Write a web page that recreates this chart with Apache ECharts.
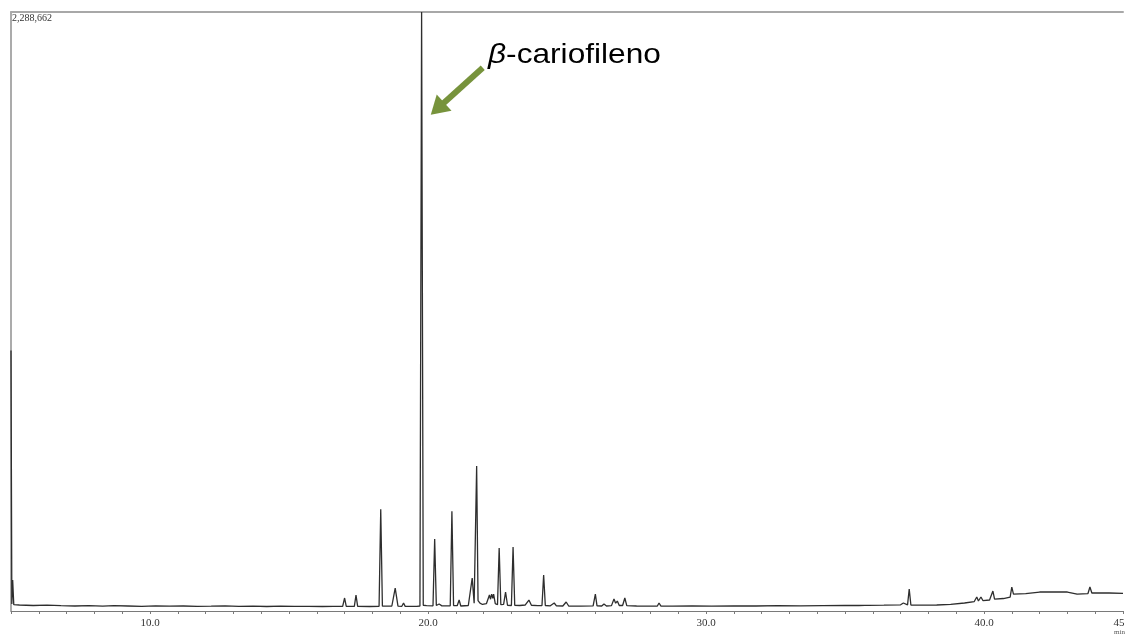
<!DOCTYPE html>
<html>
<head>
<meta charset="utf-8">
<title>Cromatograma</title>
<script src="https://cdn.jsdelivr.net/npm/echarts@6/dist/echarts.min.js"></script>
<style>
  html, body { margin: 0; padding: 0; background: #fff; }
  #chart { width: 1125px; height: 637px; }
</style>
</head>
<body>
<div id="chart"></div>
<script>
// Chromatogram trace: [retention time (min), intensity (counts)]
const solventAndEarlyBaseline = [
  [5.00, 995500], [5.03, 26700], [5.06, 118200], [5.10, 24000], [5.30, 22900],
  [5.80, 21000], [6.30, 22100], [6.80, 20200], [7.30, 19100], [7.80, 20600],
  [8.30, 18400], [8.70, 20200], [9.20, 19100], [9.70, 18000], [10.20, 19800],
  [10.70, 18400], [11.20, 19100], [11.70, 17600], [12.20, 18400], [12.70, 19500],
  [13.20, 17900], [13.70, 18400], [14.20, 17200], [14.70, 18800], [15.20, 17600],
  [15.70, 18000], [16.20, 17200], [16.60, 18000], [16.93, 17500]
];

const sesquiterpeneRegion = [
  [17.00, 49600], [17.06, 17500], [17.35, 18000], [17.41, 61000], [17.47, 17900],
  [17.90, 17200], [18.24, 18000], [18.30, 389000], [18.36, 18400], [18.70, 19100],
  [18.82, 87700], [18.92, 18400], [19.06, 18000], [19.12, 30500], [19.18, 17600],
  [19.60, 18000], [19.71, 19100], [19.77, 2288662], [19.83, 22000], [19.95, 20600],
  [20.18, 19800], [20.24, 274600], [20.30, 21000], [20.40, 26700], [20.50, 19500],
  [20.80, 19800], [20.86, 381400], [20.92, 20600], [21.05, 20200], [21.12, 42000],
  [21.18, 19100], [21.45, 21000], [21.59, 125900], [21.66, 30000], [21.75, 554200],
  [21.80, 40000], [21.83, 45800], [21.87, 30000], [21.91, 34300], [21.96, 25000],
  [22.10, 28000], [22.21, 61000], [22.25, 45000], [22.29, 64800], [22.33, 48000],
  [22.36, 64800], [22.42, 28000], [22.50, 24000], [22.56, 240300], [22.62, 24000],
  [22.72, 25000], [22.79, 72500], [22.86, 22000], [23.00, 21000], [23.06, 244100],
  [23.12, 22000], [23.30, 21000], [23.50, 23000], [23.63, 42000], [23.72, 22000],
  [23.95, 20600], [24.10, 21000], [24.16, 137300], [24.22, 21000], [24.40, 19800],
  [24.54, 30500], [24.62, 19500], [24.85, 19100], [24.97, 34300], [25.06, 19100],
  [25.50, 18400], [25.94, 19500], [26.02, 64800], [26.08, 19500], [26.25, 19100],
  [26.33, 26700], [26.42, 19100], [26.60, 20600], [26.69, 45800], [26.75, 30000],
  [26.81, 38100], [26.88, 21000], [27.00, 21000], [27.08, 49600], [27.15, 20200],
  [27.50, 19100], [28.00, 18800], [28.25, 19100], [28.31, 30500], [28.38, 18800]
];

const lateElutionRegion = [
  [28.80, 18400], [29.50, 19100], [30.20, 18800], [31.00, 19500], [31.80, 19100],
  [32.60, 20200], [33.40, 19800], [34.20, 20600], [35.00, 21400], [35.50, 21000],
  [35.72, 21400], [35.78, 26700], [35.85, 21700], [36.40, 22100], [37.00, 23600],
  [37.10, 30500], [37.16, 23000], [37.25, 23600], [37.31, 83900], [37.37, 22900],
  [37.80, 22100], [38.30, 22900], [38.80, 25000], [39.30, 30500], [39.65, 36200],
  [39.74, 53400], [39.80, 38100], [39.89, 53400], [39.96, 40000], [40.20, 42000],
  [40.32, 76300], [40.38, 45000], [40.70, 47700], [40.94, 53400], [41.00, 91500],
  [41.06, 64800], [41.50, 66700], [42.00, 72500], [42.50, 72500], [43.00, 72500],
  [43.35, 64800], [43.74, 66700], [43.81, 91500], [43.88, 68700], [44.50, 68700],
  [45.00, 67700]
];

// Axis range and label annotation
const timeRange = [5, 45];
const intensityMax = 2288662;
const intensityMaxLabel = '2,288,662';
const peakName = 'cariofileno';
const peakArrowFrom = [21.97, 2076000];
const peakArrowTo = [20.10, 1896000];
const peakLabelAt = [22.16, 2124000];

const trace = solventAndEarlyBaseline.concat(sesquiterpeneRegion, lateElutionRegion);

const chart = echarts.init(document.getElementById('chart'), null, { renderer: 'canvas' });

const serif = '"Liberation Serif", "DejaVu Serif", serif';

chart.setOption({
  animation: false,
  backgroundColor: '#ffffff',
  grid: { left: 11, right: 2, top: 12, bottom: 26, containLabel: false, outerBoundsMode: 'none' },
  xAxis: [
    {
      type: 'value',
      min: timeRange[0],
      max: timeRange[1],
      interval: 1,
      position: 'bottom',
      axisLine: { show: true, lineStyle: { color: '#7a7a7a', width: 1 } },
      axisTick: { show: true, length: 3, lineStyle: { color: '#7a7a7a', width: 1 } },
      axisLabel: {
        show: true,
        margin: 7,
        fontFamily: serif,
        fontSize: 11,
        color: '#333',
        showMinLabel: true,
        showMaxLabel: true,
        hideOverlap: false,
        formatter: function (v) {
          return (Math.abs(v % 10) < 1e-9 || v === timeRange[1]) ? v.toFixed(1) : '';
        }
      },
      splitLine: { show: false }
    },
    {
      type: 'value',
      min: timeRange[0],
      max: timeRange[1],
      position: 'top',
      axisLine: { show: true, lineStyle: { color: '#a8a8a8', width: 2 } },
      axisTick: { show: false },
      axisLabel: { show: false },
      splitLine: { show: false }
    }
  ],
  yAxis: {
    type: 'value',
    min: 0,
    max: intensityMax,
    axisLine: { show: true, lineStyle: { color: '#8f8f8f', width: 1.5 } },
    axisTick: { show: false },
    axisLabel: { show: false },
    splitLine: { show: false }
  },
  series: [
    {
      type: 'line',
      data: trace,
      xAxisIndex: 0,
      showSymbol: false,
      symbol: 'none',
      clip: true,
      lineStyle: { color: '#2e2e2e', width: 1.3 },
      z: 3
    }
  ]
});

// Annotation: arrow pointing at the main peak, with its name
const from = chart.convertToPixel({ xAxisIndex: 0, yAxisIndex: 0 }, peakArrowFrom);
const to = chart.convertToPixel({ xAxisIndex: 0, yAxisIndex: 0 }, peakArrowTo);
const lab = chart.convertToPixel({ xAxisIndex: 0, yAxisIndex: 0 }, peakLabelAt);

const dx = to[0] - from[0], dy = to[1] - from[1];
const len = Math.sqrt(dx * dx + dy * dy);
const ux = dx / len, uy = dy / len;
const nx = -uy, ny = ux;
const headLen = 18, headHalf = 11;
const baseX = to[0] - ux * headLen, baseY = to[1] - uy * headLen;
const arrowGreen = '#77933c';

chart.setOption({
  graphic: [
    {
      type: 'text',
      left: 12,
      top: 13,
      style: {
        text: intensityMaxLabel,
        font: '10px ' + serif,
        fill: '#333'
      },
      z: 10
    },
    {
      type: 'text',
      right: 0,
      top: 629,
      style: {
        text: 'min',
        font: '7px ' + serif,
        fill: '#555'
      },
      z: 10
    },
    {
      type: 'line',
      shape: { x1: from[0], y1: from[1], x2: baseX + ux * 2, y2: baseY + uy * 2 },
      style: { stroke: arrowGreen, lineWidth: 6, lineCap: 'butt' },
      z: 10
    },
    {
      type: 'polygon',
      shape: {
        points: [
          [to[0], to[1]],
          [baseX + nx * headHalf, baseY + ny * headHalf],
          [baseX - nx * headHalf, baseY - ny * headHalf]
        ]
      },
      style: { fill: arrowGreen },
      z: 10
    },
    {
      type: 'text',
      x: lab[0],
      y: lab[1],
      scaleX: 1.13,
      style: {
        text: '{b|β}-' + peakName,
        fontFamily: '"Liberation Sans", Arial, sans-serif',
        fontSize: 28,
        fill: '#000',
        verticalAlign: 'middle',
        align: 'left',
        rich: {
          b: {
            fontStyle: 'italic',
            fontFamily: '"Liberation Sans", Arial, sans-serif',
            fontSize: 28,
            fill: '#000'
          }
        }
      },
      z: 10
    }
  ]
});
</script>
</body>
</html>
